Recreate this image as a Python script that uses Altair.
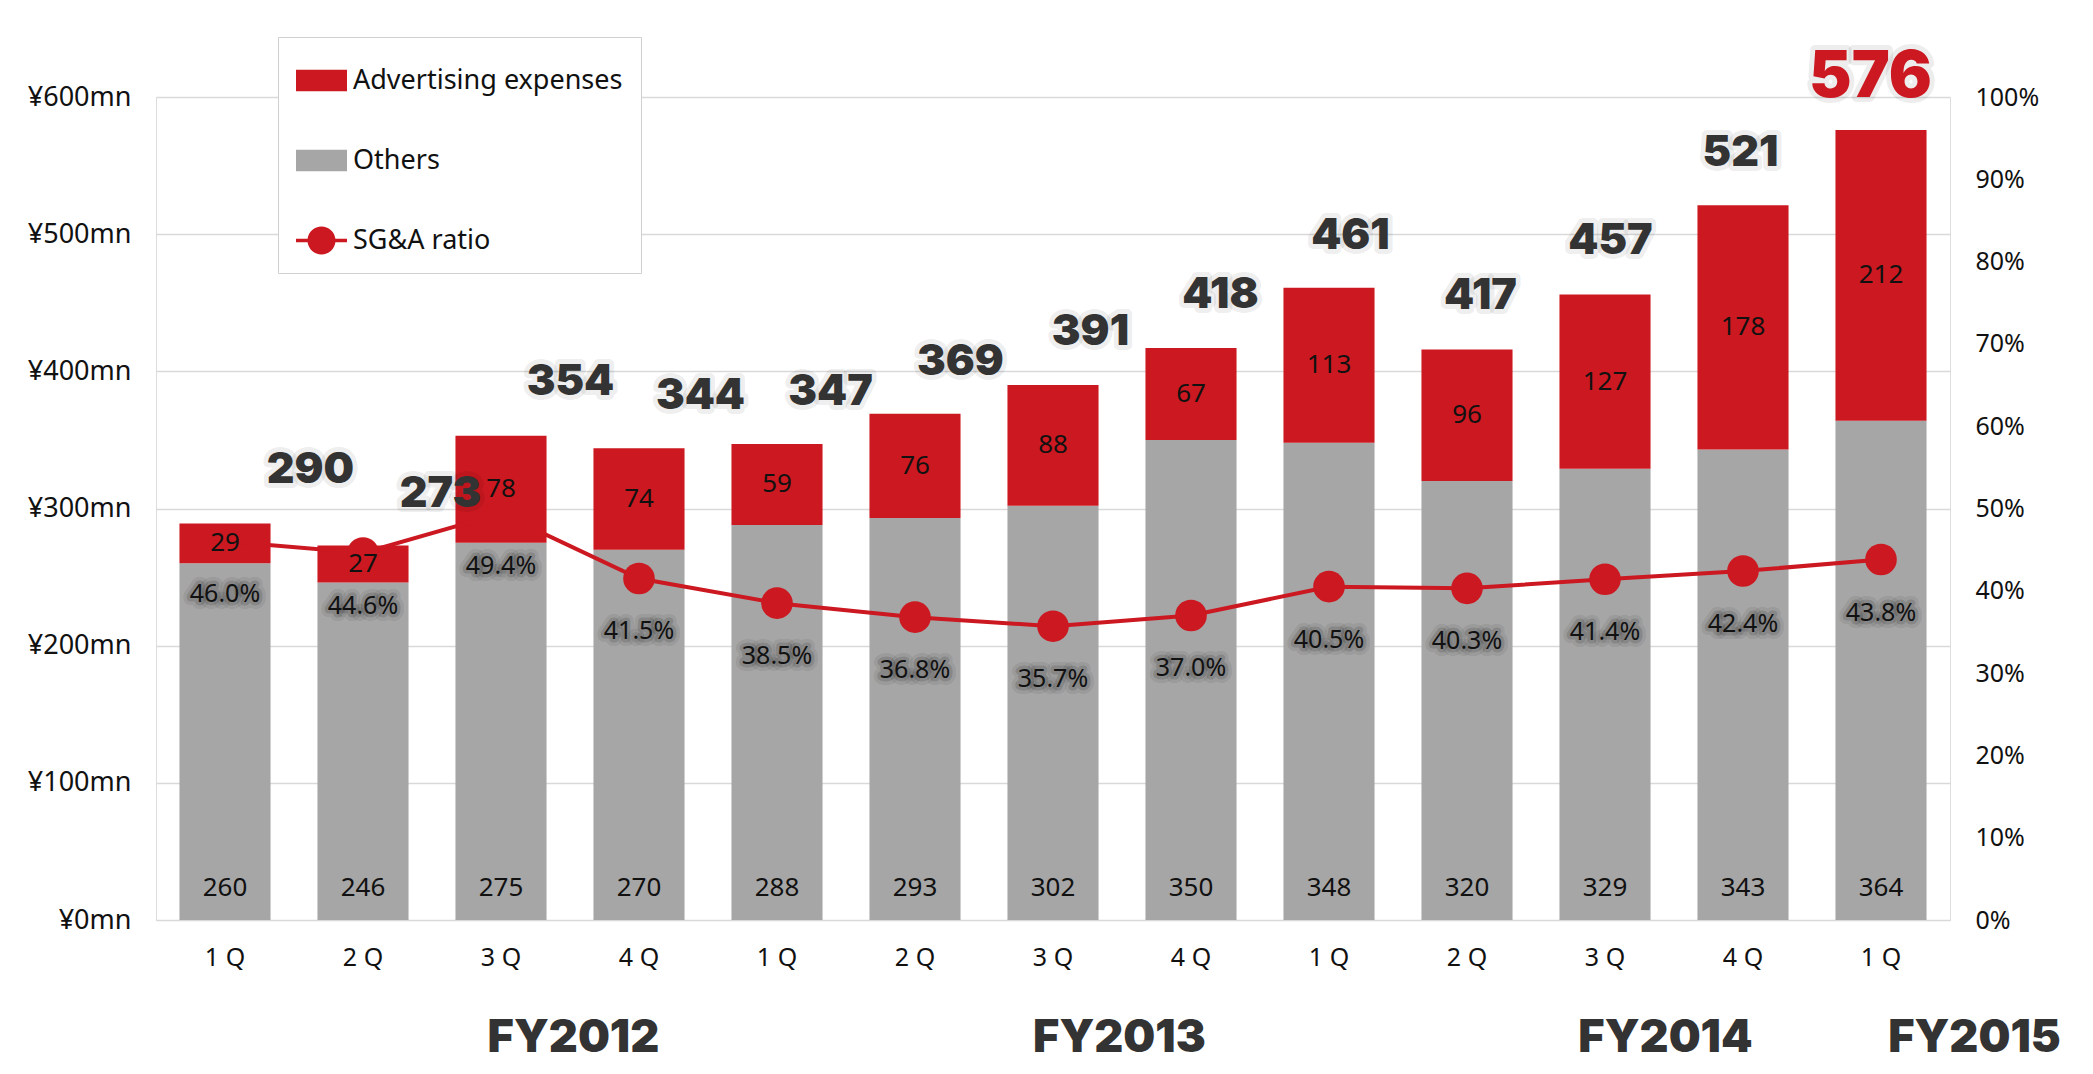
import altair as alt
import pandas as pd

# ---------------- data ----------------
years = ["FY2012"] * 4 + ["FY2013"] * 4 + ["FY2014"] * 4 + ["FY2015"]
quarters = ["1 Q", "2 Q", "3 Q", "4 Q"] * 3 + ["1 Q"]
others = [260, 246, 275, 270, 288, 293, 302, 350, 348, 320, 329, 343, 364]
ads = [29, 27, 78, 74, 59, 76, 88, 67, 113, 96, 127, 178, 212]
totals = [290, 273, 354, 344, 347, 369, 391, 418, 461, 417, 457, 521, 576]
ratios = [46.0, 44.6, 49.4, 41.5, 38.5, 36.8, 35.7, 37.0, 40.5, 40.3, 41.4, 42.4, 43.8]
fy_labels = ["FY2012", "FY2013", "FY2014", "FY2015"]
fy_anchor = ["FY2012|3 Q", "FY2013|3 Q", "FY2014|3 Q", "FY2015|1 Q"]
series_names = ["Advertising expenses", "Others", "SG&A ratio"]

# ---------------- styles ----------------
RED = "#CC1820"
GRAY = "#A6A6A6"
DARK = "#333333"
TXT = "#111111"
FONT = "Noto Sans"
BOLD = "Inter"

cats = [f"{y}|{q}" for y, q in zip(years, quarters)]
n = len(cats)

base_df = pd.DataFrame({
    "cat": cats, "idx": list(range(n)), "others": others, "ads": ads,
    "total": totals, "ratio": ratios,
})
long_df = pd.DataFrame({
    "cat": cats * 2,
    "series": ["Others"] * n + ["Advertising expenses"] * n,
    "value": others + ads,
    "ord": [0] * n + [1] * n,
})
fy_df = pd.DataFrame({"label": fy_labels, "cat": fy_anchor})

X = alt.X(
    "cat:N", sort=cats,
    scale=alt.Scale(paddingInner=0.34, paddingOuter=0.17),
    axis=alt.Axis(title=None, labelExpr="split(datum.label, '|')[1]",
                  labelAngle=0, ticks=False, domain=False, grid=False,
                  labelFontSize=25, labelFont=FONT, labelColor=TXT,
                  labelPadding=25),
)

legend_shape = (
    "datum.value === 'SG&A ratio' ? "
    "'M-1,-0.07H-0.5455A0.55,0.55,0,0,1,0.5455,-0.07H1V0.07H0.5455A0.55,0.55,0,0,1,-0.5455,0.07H-1Z' : "
    "'M-1,-0.42H1V0.42H-1Z'"
)

# ---- group 1: bars with left axis ----
bars = alt.Chart(long_df).mark_bar().encode(
    x=X,
    y=alt.Y("value:Q", stack="zero", scale=alt.Scale(domain=[0, 600], nice=False),
            axis=alt.Axis(title=None, values=[0, 100, 200, 300, 400, 500, 600],
                          labelExpr="'¥' + datum.value + 'mn'",
                          ticks=False, domain=False, grid=True,
                          gridColor="#D9D9D9", gridWidth=1.5,
                          labelFontSize=27, labelFont=FONT, labelColor=TXT,
                          labelPadding=25)),
    color=alt.Color("series:N",
                    scale=alt.Scale(domain=series_names, range=[RED, GRAY, RED]),
                    legend=alt.Legend(
                        title=None, orient="none", legendX=122, legendY=-60,
                        direction="vertical", symbolSize=2600,
                        labelFontSize=27, labelFont=FONT, labelColor=TXT,
                        labelLimit=600,
                        padding=18, rowPadding=41, labelOffset=6,
                        fillColor="white", strokeColor="#D0D0D0",
                        symbolStrokeWidth=0,
                        symbolType={"expr": legend_shape},
                    )),
    order=alt.Order("ord:Q"),
)

# ---- group 2: ratio line with right axis ----
Yr = alt.Y("ratio:Q", scale=alt.Scale(domain=[0, 100], nice=False),
           axis=alt.Axis(title=None, orient="right",
                         values=list(range(0, 101, 10)),
                         labelExpr="datum.value + '%'", ticks=False,
                         domain=False, grid=False, labelFontSize=25,
                         labelFont=FONT, labelColor=TXT, labelPadding=25))

rbase = alt.Chart(base_df).transform_calculate(
    lbl="format(datum.ratio, '.1f') + '%'")
line = rbase.mark_line(color=RED, strokeWidth=4).encode(x=X, y=Yr)
pts = rbase.mark_circle(color=RED, size=1000, opacity=1).encode(x=X, y=Yr)
halo1 = rbase.mark_text(fontSize=25, font=FONT, baseline="middle", dy=53,
                        fillOpacity=0, stroke="#000", strokeWidth=14,
                        strokeOpacity=0.08, strokeJoin="round").encode(
    x=X, y=Yr, text="lbl:N")
halo2 = rbase.mark_text(fontSize=25, font=FONT, baseline="middle", dy=53,
                        fillOpacity=0, stroke="#000", strokeWidth=7,
                        strokeOpacity=0.14, strokeJoin="round").encode(
    x=X, y=Yr, text="lbl:N")
pct = rbase.mark_text(fontSize=25, font=FONT, baseline="middle", dy=53,
                      color=TXT).encode(x=X, y=Yr, text="lbl:N")

right = alt.layer(line, pts, halo1, halo2, pct)

# ---- group 3: value labels on the left scale (drawn on top) ----
ls = alt.Scale(domain=[0, 600], nice=False)

others_lbl = alt.Chart(base_df).transform_calculate(zero="0").mark_text(
    fontSize=26, font=FONT, color=TXT, baseline="middle", dy=-32
).encode(x=X, y=alt.Y("zero:Q", scale=ls, axis=None), text="others:Q")

ads_lbl = alt.Chart(base_df).transform_calculate(
    mid="datum.others + datum.ads / 2"
).mark_text(fontSize=26, font=FONT, color=TXT, baseline="middle").encode(
    x=X, y=alt.Y("mid:Q", scale=ls, axis=None), text="ads:Q"
)

tot_base = alt.Chart(base_df).transform_calculate(off="131 - 8 * datum.idx")
tot_enc = dict(
    x=X,
    xOffset=alt.XOffset("off:Q", scale=None),
    y=alt.Y("total:Q", scale=ls, axis=None),
    text="total:Q",
    size=alt.condition("datum.idx == 12", alt.value(64), alt.value(43)),
)
tot_glow = tot_base.mark_text(
    font=BOLD, fontWeight=900, baseline="middle", dy=-52,
    fillOpacity=0, stroke="#000", strokeWidth=10,
    strokeOpacity=0.07, strokeJoin="round"
).encode(**tot_enc)
tot_text = tot_base.mark_text(
    font=BOLD, fontWeight=900, baseline="middle", dy=-52
).encode(color=alt.condition("datum.idx == 12", alt.value(RED), alt.value(DARK)),
         **tot_enc)

fy_lbl = alt.Chart(fy_df).transform_calculate(
    zero="0",
    off="datum.label == 'FY2012' ? 118 : datum.label == 'FY2013' ? 112 : "
        "datum.label == 'FY2014' ? 106 : 139",
).mark_text(font=BOLD, fontWeight=900, fontSize=45, color=DARK,
            baseline="middle", dy=118).encode(
    x=X, xOffset=alt.XOffset("off:Q", scale=None),
    y=alt.Y("zero:Q", scale=ls, axis=None), text="label:N")

labels = alt.layer(others_lbl, ads_lbl, tot_glow, tot_text, fy_lbl)

chart = alt.layer(bars, right, labels).resolve_scale(y="independent").properties(
    width=1794, height=823,
    padding={"left": 148, "top": 89, "right": 120, "bottom": 146},
    autosize=alt.AutoSizeParams(type="none"),
).configure_view(stroke=None).configure(background="white")

chart.save("out.html", embed_options={"renderer": "svg", "actions": False})
